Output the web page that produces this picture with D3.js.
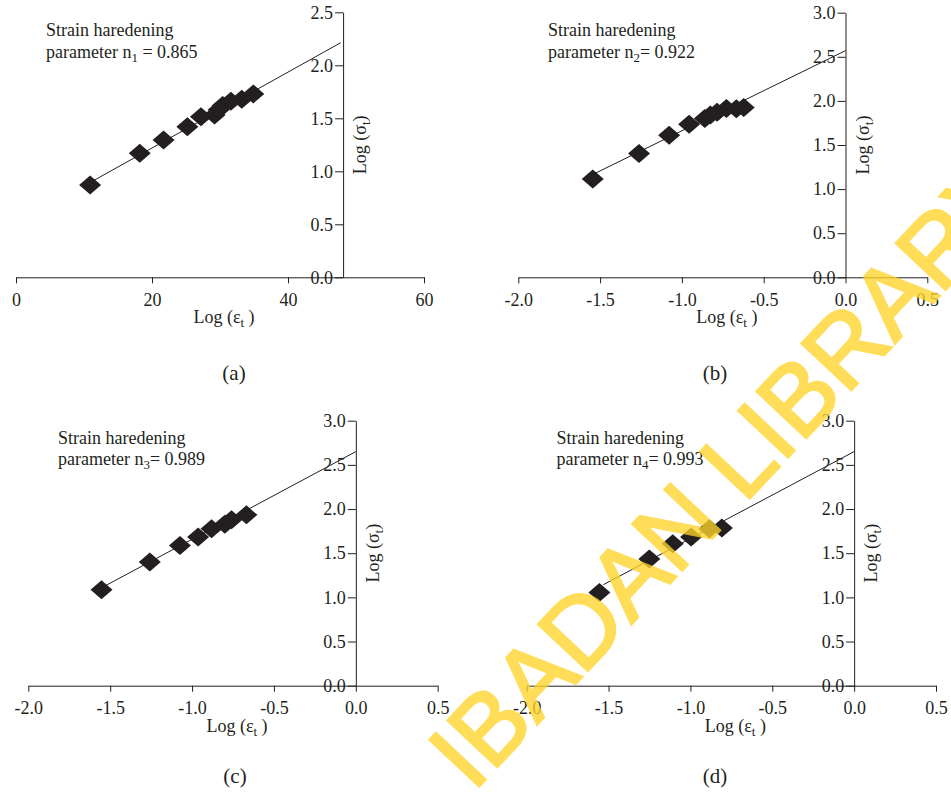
<!DOCTYPE html>
<html>
<head>
<meta charset="utf-8">
<script src="https://cdn.jsdelivr.net/npm/d3@7"></script>
<style>
  html, body { margin: 0; padding: 0; background: #fff; }
  svg { display: block; }
</style>
</head>
<body>
<svg id="chart" width="951" height="792"></svg>
<script>
// ---------------- DATA ----------------
const panelLabels = ["(a)", "(b)", "(c)", "(d)"];
const nSubscripts = ["1", "2", "3", "4"];
const nValues = ["0.865", "0.922", "0.989", "0.993"];

const xTicksA = [0, 20, 40, 60];
const yTicksA = [0, 0.5, 1.0, 1.5, 2.0, 2.5];
const xTicksBCD = [-2.0, -1.5, -1.0, -0.5, 0.0, 0.5];
const yTicksBCD = [0, 0.5, 1.0, 1.5, 2.0, 2.5, 3.0];

// panel (a)
const strainA = [10.9, 18.2, 21.7, 25.2, 27.2, 29.2, 29.8, 30.4, 31.6, 33.2, 34.9];
const stressA = [0.87, 1.17, 1.295, 1.42, 1.515, 1.53, 1.58, 1.62, 1.66, 1.68, 1.73];
const fitStrainA = [11.2, 47.75];
const fitStressA = [0.905, 2.213];

// panel (b)
const strainB = [-1.545, -1.262, -1.078, -0.956, -0.86, -0.826, -0.785, -0.728, -0.667, -0.622];
const stressB = [1.115, 1.405, 1.61, 1.735, 1.80, 1.84, 1.87, 1.915, 1.91, 1.925];
const fitStrainB = [-1.529, 0.0];
const fitStressB = [1.18, 2.57];

// panel (c)
const strainC = [-1.553, -1.258, -1.074, -0.963, -0.881, -0.80, -0.759, -0.668];
const stressC = [1.086, 1.399, 1.587, 1.682, 1.776, 1.829, 1.878, 1.934];
const fitStrainC = [-1.526, 0.0];
const fitStressC = [1.135, 2.65];

// panel (d)
const strainD = [-1.556, -1.251, -1.108, -0.996, -0.884, -0.808];
const stressD = [1.056, 1.433, 1.606, 1.682, 1.776, 1.784];
const fitStrainD = [-1.532, 0.0];
const fitStressD = [1.143, 2.65];

const watermark = "IBADAN LIBRARY";

// ---------------- LAYOUT ----------------
const ink = "#231f20";
const serif = "'Liberation Serif', 'Times New Roman', serif";

const panels = [
  { xs: strainA, ys: stressA, fx: fitStrainA, fy: fitStressA, xTicks: xTicksA, yTicks: yTicksA,
    xDom: [0, 60], xRange: [16, 424], yDom: [0, 2.5], yRange: [277.3, 12.3], yAxisAt: 48.1,
    fmt: d => String(d), textX: 46, textY: 36, capX: 234, capY: 380 },
  { xs: strainB, ys: stressB, fx: fitStrainB, fy: fitStressB, xTicks: xTicksBCD, yTicks: yTicksBCD,
    xDom: [-2, 0.5], xRange: [518.3, 927.3], yDom: [0, 3], yRange: [277.3, 12.7], yAxisAt: 0,
    fmt: d => d.toFixed(1), textX: 548, textY: 36, capX: 715, capY: 380 },
  { xs: strainC, ys: stressC, fx: fitStrainC, fy: fitStressC, xTicks: xTicksBCD, yTicks: yTicksBCD,
    xDom: [-2, 0.5], xRange: [28.3, 437.7], yDom: [0, 3], yRange: [685.7, 420.7], yAxisAt: 0,
    fmt: d => d.toFixed(1), textX: 58, textY: 443.5, capX: 235, capY: 783 },
  { xs: strainD, ys: stressD, fx: fitStrainD, fy: fitStressD, xTicks: xTicksBCD, yTicks: yTicksBCD,
    xDom: [-2, 0.5], xRange: [526.7, 936], yDom: [0, 3], yRange: [685.7, 420.7], yAxisAt: 0,
    fmt: d => d.toFixed(1), textX: 556.5, textY: 443.5, capX: 715, capY: 783 }
];

const svg = d3.select("#chart");
const diamond = "M0,-9.5L11,0L0,9.5L-11,0Z";

panels.forEach((p, i) => {
  const x = d3.scaleLinear().domain(p.xDom).range(p.xRange);
  const y = d3.scaleLinear().domain(p.yDom).range(p.yRange);
  const g = svg.append("g");

  const xa = g.append("g")
    .attr("transform", `translate(0,${y(0)})`)
    .call(d3.axisBottom(x).tickValues(p.xTicks).tickFormat(p.fmt)
      .tickSize(6).tickSizeOuter(0).tickPadding(9.5));
  const ya = g.append("g")
    .attr("transform", `translate(${x(p.yAxisAt)},0)`)
    .call(d3.axisLeft(y).tickValues(p.yTicks).tickFormat(d => d.toFixed(1))
      .tickSize(8).tickSizeOuter(0).tickPadding(2));

  [xa, ya].forEach(a => {
    a.attr("font-family", serif).attr("font-size", 18);
    a.selectAll("path, line").attr("stroke", ink).attr("stroke-width", 1);
    a.selectAll("text").attr("fill", ink);
  });

  const lineData = p.fx.map((v, k) => [v, p.fy[k]]);
  g.append("path")
    .datum(lineData)
    .attr("d", d3.line().x(d => x(d[0])).y(d => y(d[1])))
    .attr("fill", "none").attr("stroke", ink).attr("stroke-width", 1);

  g.selectAll(".pt")
    .data(p.xs.map((v, k) => [v, p.ys[k]]))
    .join("path")
    .attr("class", "pt")
    .attr("d", diamond)
    .attr("transform", d => `translate(${x(d[0])},${y(d[1])})`)
    .attr("fill", ink);

  g.append("text").attr("x", p.textX).attr("y", p.textY)
    .attr("font-family", serif).attr("font-size", 18).attr("fill", ink)
    .text("Strain haredening");
  const t2 = g.append("text").attr("x", p.textX).attr("y", p.textY + 21.5)
    .attr("font-family", serif).attr("font-size", 18).attr("fill", ink);
  t2.append("tspan").text("parameter n");
  t2.append("tspan").attr("font-size", 13).attr("dy", 4).text(nSubscripts[i]);
  t2.append("tspan").attr("dy", -4).text(i === 0 ? " = " + nValues[i] : "= " + nValues[i]);

  const xMid = (p.xRange[0] + p.xRange[1]) / 2 + 4;
  const xt = g.append("text").attr("x", xMid).attr("y", y(0) + 46)
    .attr("text-anchor", "middle")
    .attr("font-family", serif).attr("font-size", 18).attr("fill", ink);
  xt.append("tspan").text("Log (ε");
  xt.append("tspan").attr("font-size", 13).attr("dy", 4).text("t");
  xt.append("tspan").attr("dy", -4).text(" )");

  const yMid = (p.yRange[0] + p.yRange[1]) / 2;
  const yt = g.append("text")
    .attr("transform", `translate(${x(p.yAxisAt) + 23},${yMid}) rotate(-90)`)
    .attr("text-anchor", "middle")
    .attr("font-family", serif).attr("font-size", 18).attr("fill", ink);
  yt.append("tspan").text("Log (σ");
  yt.append("tspan").attr("font-size", 13).attr("dy", 4).text("t");
  yt.append("tspan").attr("dy", -4).text(")");

  g.append("text").attr("x", p.capX).attr("y", p.capY)
    .attr("text-anchor", "middle")
    .attr("font-family", serif).attr("font-size", 21).attr("fill", ink)
    .text(panelLabels[i]);
});

// watermark (on top, semi-transparent)
const wm = svg.append("g").attr("opacity", 0.78)
  .attr("transform", "translate(473,793) rotate(-46.8)");
wm.append("text").attr("x", 0).attr("y", 0)
  .attr("font-family", "'Liberation Sans', Arial, sans-serif").attr("font-size", 99)
  .attr("fill", "#ffd42a").attr("stroke", "#ffd42a").attr("stroke-width", 2.5)
  .attr("stroke-linejoin", "miter")
  .text(watermark);
</script>
</body>
</html>
